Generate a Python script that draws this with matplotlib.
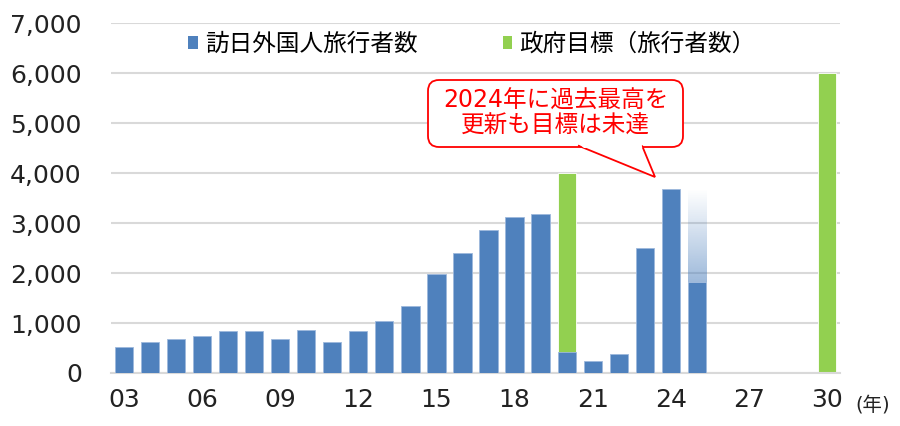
import numpy as np
import matplotlib.pyplot as plt
from matplotlib.patches import Patch, Polygon, FancyBboxPatch
from matplotlib.colors import to_rgb

# DejaVu for the wide Meiryo-like digits, CJK falls through to Noto
plt.rcParams['font.family'] = ['DejaVu Sans', 'Noto Sans CJK JP']

# data (万人)
years = list(range(2003, 2031))
visitor_years = list(range(2003, 2026))
visitors = [521, 614, 673, 733, 835, 835, 679, 861, 622, 836, 1036, 1341, 1974,
            2404, 2869, 3119, 3188, 412, 234, 383, 2506, 3687, 1814]
forecast_2025 = 3670          # faded part of the 2025 bar
target_years = [2020, 2030]
targets = [4000, 6000]
tick_years = [2003, 2006, 2009, 2012, 2015, 2018, 2021, 2024, 2027, 2030]
tick_labels = ['03', '06', '09', '12', '15', '18', '21', '24', '27', '30']

blue = '#4F81BD'
green = '#92D050'
grid = '#D9D9D9'

fig = plt.figure(figsize=(9, 4.26), dpi=100)
ax = fig.add_axes([111 / 900, 53 / 426, 729 / 900, 350 / 426])

idx = {y: i for i, y in enumerate(years)}
w = 0.7

# government target (behind)
ax.bar([idx[y] for y in target_years], targets, width=w, color=green,
       edgecolor='white', linewidth=0.6, zorder=2)

# 2025 faded projection
x25 = idx[2025]
grad = np.zeros((100, 1, 4))
grad[..., :3] = to_rgb(blue)
grad[:, 0, 3] = np.linspace(0.55, 0.0, 100)
ax.imshow(grad, extent=[x25 - w / 2, x25 + w / 2, visitors[-1], forecast_2025],
          origin='lower', aspect='auto', zorder=2, interpolation='bilinear')

# visitors
ax.bar([idx[y] for y in visitor_years], visitors, width=w, color=blue,
       edgecolor='#9DB8DC', linewidth=0.6, zorder=3)

ax.set_xlim(-0.5, len(years) - 0.5)
ax.set_ylim(0, 7000)
ax.set_yticks(np.arange(0, 7001, 1000))
ax.set_yticklabels([f'{v:,}' for v in range(0, 7001, 1000)])
ax.set_xticks([idx[y] for y in tick_years])
ax.set_xticklabels(tick_labels)
ax.tick_params(axis='y', length=0, pad=21, labelsize=18, labelcolor='#222222')
ax.tick_params(axis='x', length=0, pad=11, labelsize=18, labelcolor='#222222')
ax.grid(axis='y', color=grid, linewidth=1.5, zorder=0)
ax.set_axisbelow(True)
for s in ['left', 'right', 'top']:
    ax.spines[s].set_visible(False)
ax.spines['bottom'].set_color(grid)
ax.spines['bottom'].set_linewidth(1.5)

fig.text(855 / 900, 1 - 405 / 426, '(年)', fontsize=14, va='center', ha='left',
         color='#222222')

# legend
handles = [Patch(facecolor=blue, label='訪日外国人旅行者数'),
           Patch(facecolor=green, label='政府目標（旅行者数）')]
ax.legend(handles=handles, loc='center', bbox_to_anchor=(0.495, 1 - 21 / 350),
          ncol=2, frameon=False, fontsize=17, handlelength=0.42, handleheight=0.42,
          handletextpad=0.3, columnspacing=3.6, borderaxespad=0)

# callout box with tail (pixel coords, y from bottom)
H = 426
bx0, bx1, by0, by1 = 428, 683, H - 147, H - 80
r = 11
t0, t1, tip = 578, 642, (655, H - 177)
box = FancyBboxPatch((bx0, by0), bx1 - bx0, by1 - by0,
                     boxstyle=f'round,pad=0,rounding_size={r}',
                     transform=None, facecolor='white', edgecolor='#FF0000',
                     linewidth=1.3, zorder=5)
fig.patches.append(box)
tail = Polygon([(t0, by0 + 1.5), tip, (t1, by0 + 1.5)], closed=False,
               transform=None, facecolor='white', edgecolor='#FF0000',
               linewidth=1.3, zorder=6)
fig.patches.append(tail)
cover = Polygon([(t0 + 1.5, by0 + 2.5), (t0 + 6, by0 - 1), (t1 + 0.3, by0 - 1), (t1 - 0.5, by0 + 2.5)],
                transform=None, facecolor='white', edgecolor='none', zorder=7)
fig.patches.append(cover)
fig.text((bx0 + bx1) / 2 / 900, (by0 + by1) / 2 / H,
         '2024年に過去最高を\n更新も目標は未達', color='#FF0000', fontsize=17,
         ha='center', va='center', linespacing=1.05, zorder=8)

fig.savefig('out.png', dpi=100)
